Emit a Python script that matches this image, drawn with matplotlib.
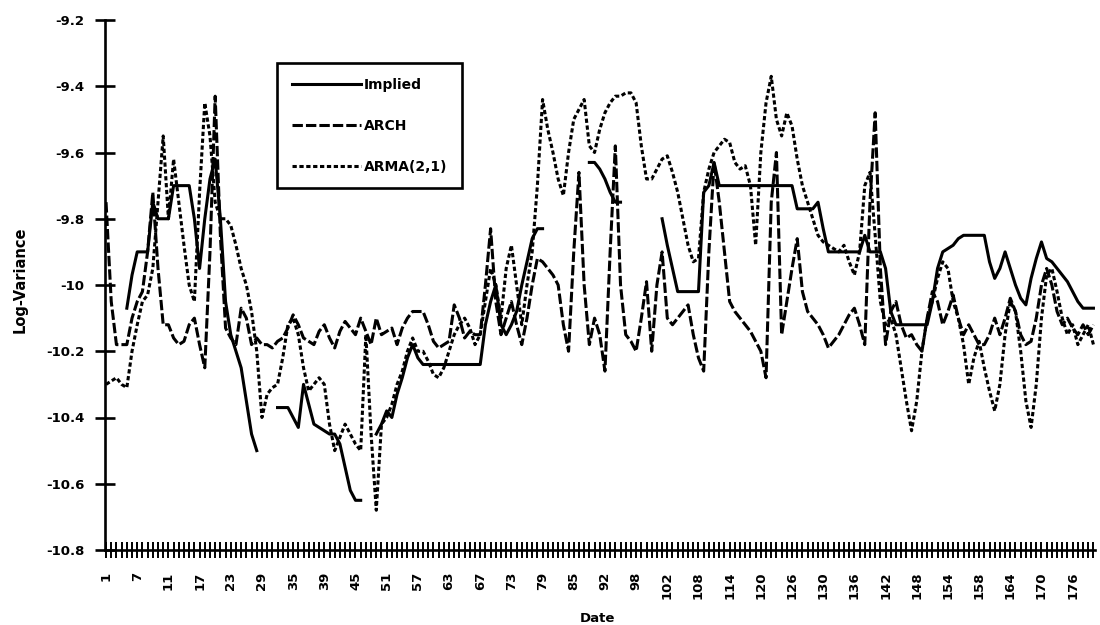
import numpy as np
import matplotlib
matplotlib.use("Agg")
import matplotlib.pyplot as plt
from matplotlib.ticker import FixedLocator, MultipleLocator

nan = np.nan

tick_labels = ['1', '7', '11', '17', '23', '29', '35', '39', '45', '51', '57', '63',
               '67', '73', '79', '85', '92', '98', '102', '108', '114', '120', '126',
               '130', '136', '142', '148', '154', '158', '164', '170', '176']

implied = [
    nan, nan, nan, nan, -10.07, -9.97, -9.90, -9.90, -9.90, -9.75,
    -9.80, -9.80, -9.80, -9.70, -9.70, -9.70, -9.70, -9.80, -9.95, -9.80,
    -9.68, -9.62, -9.80, -10.05, -10.15, -10.20, -10.25, -10.35, -10.45, -10.50,
    nan, nan, nan, -10.37, -10.37, -10.37, -10.40, -10.43, -10.30, -10.36,
    -10.42, -10.43, -10.44, -10.45, -10.45, -10.48, -10.55, -10.62, -10.65, -10.65,
    nan, nan, -10.45, -10.42, -10.38, -10.40, -10.33, -10.28, -10.22, -10.18,
    -10.22, -10.24, -10.24, -10.24, -10.24, -10.24, -10.24, -10.24, -10.24, -10.24,
    -10.24, -10.24, -10.24, -10.12, -10.05, -10.00, -10.12, -10.15, -10.12, -10.08,
    -10.00, -9.93, -9.86, -9.83, -9.83, nan, nan, nan, nan, nan,
    nan, nan, nan, -9.63, -9.63, -9.65, -9.68, -9.72, -9.75, -9.75,
    nan, nan, nan, nan, nan, nan, nan, -9.80, -9.88, -9.95,
    -10.02, -10.02, -10.02, -10.02, -10.02, -9.72, -9.70, -9.63, -9.70, -9.70,
    -9.70, -9.70, -9.70, -9.70, -9.70, -9.70, -9.70, -9.70, -9.70, -9.70,
    -9.70, -9.70, -9.70, -9.77, -9.77, -9.77, -9.77, -9.75, -9.83, -9.90,
    -9.90, -9.90, -9.90, -9.90, -9.90, -9.90, -9.85, -9.90, -9.90, -9.90,
    -9.95, -10.08, -10.12, -10.12, -10.12, -10.12, -10.12, -10.12, -10.12, -10.05,
    -9.95, -9.90, -9.89, -9.88, -9.86, -9.85, -9.85, -9.85, -9.85, -9.85,
    -9.93, -9.98, -9.95, -9.90, -9.95, -10.00, -10.04, -10.06, -9.98, -9.92,
    -9.87, -9.92, -9.93, -9.95, -9.97, -9.99, -10.02, -10.05, -10.07, -10.07,
    -10.07,
]

arch = [
    -9.75, -10.05, -10.18, -10.18, -10.18, -10.10, -10.05, -10.02, -9.90, -9.72,
    -9.95, -10.12, -10.12, -10.16, -10.18, -10.17, -10.12, -10.10, -10.18, -10.25,
    -9.90, -9.43, -9.85, -10.13, -10.16, -10.18, -10.07, -10.10, -10.18, -10.16,
    -10.18, -10.18, -10.19, -10.17, -10.16, -10.13, -10.09, -10.12, -10.16, -10.17,
    -10.18, -10.14, -10.12, -10.16, -10.19, -10.14, -10.11, -10.13, -10.15, -10.10,
    -10.14, -10.18, -10.10, -10.15, -10.14, -10.13, -10.18, -10.13, -10.10, -10.08,
    -10.08, -10.08, -10.12, -10.17, -10.19, -10.18, -10.17, -10.06, -10.10, -10.16,
    -10.14, -10.15, -10.15, -10.00, -9.83, -10.05, -10.15, -10.10, -10.05, -10.12,
    -10.18, -10.10, -10.00, -9.92, -9.93, -9.95, -9.97, -10.00, -10.12, -10.20,
    -9.90, -9.66, -10.00, -10.18, -10.10, -10.15, -10.26, -9.90, -9.58, -10.00,
    -10.15, -10.17, -10.20, -10.10, -9.99, -10.20, -10.00, -9.90, -10.10, -10.12,
    -10.10, -10.08, -10.06, -10.15, -10.22, -10.26, -9.90, -9.63, -9.75, -9.90,
    -10.05, -10.08, -10.10, -10.12, -10.14, -10.17, -10.20, -10.28, -9.75, -9.60,
    -10.15, -10.05, -9.95, -9.86, -10.02, -10.08, -10.10, -10.12, -10.15, -10.19,
    -10.17, -10.15, -10.12, -10.09, -10.07, -10.12, -10.18, -9.75, -9.48, -9.95,
    -10.18, -10.08, -10.05, -10.12, -10.16, -10.15, -10.18, -10.20, -10.10, -10.02,
    -10.05, -10.12, -10.08, -10.03, -10.10, -10.15, -10.12, -10.15, -10.18, -10.18,
    -10.15, -10.10, -10.15, -10.10, -10.04, -10.08, -10.15, -10.18, -10.17, -10.10,
    -10.00, -9.95, -10.00, -10.08, -10.12, -10.10, -10.13, -10.15, -10.12, -10.15,
    -10.12,
]

arma = [
    -10.30, -10.29, -10.28, -10.30, -10.31, -10.20, -10.12, -10.05, -10.03, -9.95,
    -9.75, -9.55, -9.80, -9.62, -9.75, -9.88, -10.00, -10.05, -9.72, -9.45,
    -9.55, -9.75, -9.80, -9.80, -9.82, -9.88, -9.95, -10.00, -10.08, -10.20,
    -10.40, -10.33, -10.31, -10.30, -10.22, -10.12, -10.10, -10.15, -10.25, -10.32,
    -10.30, -10.28, -10.30, -10.42, -10.50, -10.46, -10.42, -10.45, -10.48, -10.50,
    -10.15, -10.45, -10.68, -10.42, -10.40, -10.36, -10.30, -10.26, -10.20, -10.16,
    -10.20, -10.20, -10.23, -10.27, -10.28, -10.25, -10.20, -10.15, -10.12, -10.10,
    -10.13, -10.18, -10.15, -10.05, -9.95, -10.00, -10.10, -9.95, -9.88, -10.00,
    -10.12, -10.00, -9.90, -9.70, -9.44, -9.53, -9.60, -9.68, -9.73, -9.60,
    -9.50, -9.47, -9.44, -9.58, -9.60, -9.53, -9.48, -9.45, -9.43, -9.43,
    -9.42, -9.42, -9.45, -9.58, -9.68, -9.68, -9.65, -9.62, -9.61, -9.66,
    -9.72, -9.80, -9.88, -9.93, -9.92, -9.72, -9.65, -9.60, -9.58, -9.56,
    -9.57, -9.63, -9.65, -9.64, -9.70, -9.88, -9.60, -9.45, -9.37, -9.50,
    -9.55, -9.48, -9.52, -9.62, -9.70, -9.75, -9.80, -9.85, -9.87, -9.88,
    -9.89, -9.90, -9.88, -9.93, -9.97, -9.90, -9.70, -9.66, -9.85, -10.05,
    -10.12, -10.10, -10.15, -10.25, -10.35, -10.44, -10.35, -10.20, -10.10, -10.05,
    -9.98, -9.93, -9.95, -10.05, -10.10, -10.18, -10.30, -10.22, -10.17, -10.25,
    -10.32, -10.38, -10.30, -10.15, -10.05, -10.08, -10.20, -10.35, -10.43, -10.30,
    -10.10, -9.97, -9.95, -10.02, -10.10, -10.15, -10.12, -10.18, -10.15, -10.12,
    -10.18,
]

y_ticks = [-9.2, -9.4, -9.6, -9.8, -10.0, -10.2, -10.4, -10.6, -10.8]
y_tick_text = ['-9.2', '-9.4', '-9.6', '-9.8', '-10', '-10.2', '-10.4', '-10.6', '-10.8']

plt.rcParams['font.family'] = ['DejaVu Sans']
plt.rcParams['font.weight'] = 'bold'

fig = plt.figure(figsize=(11, 6.25), dpi=100)
ax = fig.add_axes([105 / 1100, 1 - 550 / 625, 990 / 1100, 530 / 625])

x = np.arange(len(arma))
lw = 2.2
ax.plot(x, implied, color='black', lw=lw, linestyle='-', label='Implied',
        solid_joinstyle='round')
ax.plot(x, arch, color='black', lw=lw, linestyle=(0, (3.4, 1.0)), label='ARCH')
ax.plot(x, arma, color='black', lw=lw, linestyle=(0, (1.4, 0.85)), label='ARMA(2,1)')

ax.set_xlim(-0.2, 190.3)
ax.set_ylim(-10.8, -9.2)

for s in ['top', 'right']:
    ax.spines[s].set_visible(False)
for s in ['left', 'bottom']:
    ax.spines[s].set_linewidth(1.9)
    ax.spines[s].set_color('black')

ax.set_yticks(y_ticks)
ax.set_yticklabels(y_tick_text)
ax.tick_params(axis='y', direction='inout', length=14, width=1.9, pad=8,
               labelsize=9.5)

label_pos = np.arange(len(tick_labels)) * 6
ax.xaxis.set_major_locator(FixedLocator(label_pos))
ax.set_xticklabels(tick_labels, rotation=90)
ax.xaxis.set_minor_locator(MultipleLocator(1))
ax.tick_params(axis='x', which='major', direction='inout', length=11, width=1.4,
               pad=10, labelsize=9.5)
ax.tick_params(axis='x', which='minor', direction='inout', length=11, width=1.4)

fig.text(20 / 1100, 1 - 280 / 625, 'Log-Variance', rotation=90, ha='center',
         va='center', fontsize=10.5, fontweight='bold')
fig.text(597 / 1100, 1 - 618 / 625, 'Date', ha='center', va='center',
         fontsize=9.5, fontweight='bold')

leg = fig.legend(loc='upper left', bbox_to_anchor=(277 / 1100, 1 - 63 / 625),
                 borderaxespad=0, fontsize=10, handlelength=5.0,
                 handletextpad=0.2, labelspacing=1.95, borderpad=1.05,
                 fancybox=False, frameon=True)
leg.get_frame().set_edgecolor('black')
leg.get_frame().set_linewidth(1.9)
leg.get_frame().set_alpha(1)

fig.savefig('out.png', dpi=100, facecolor='white')
